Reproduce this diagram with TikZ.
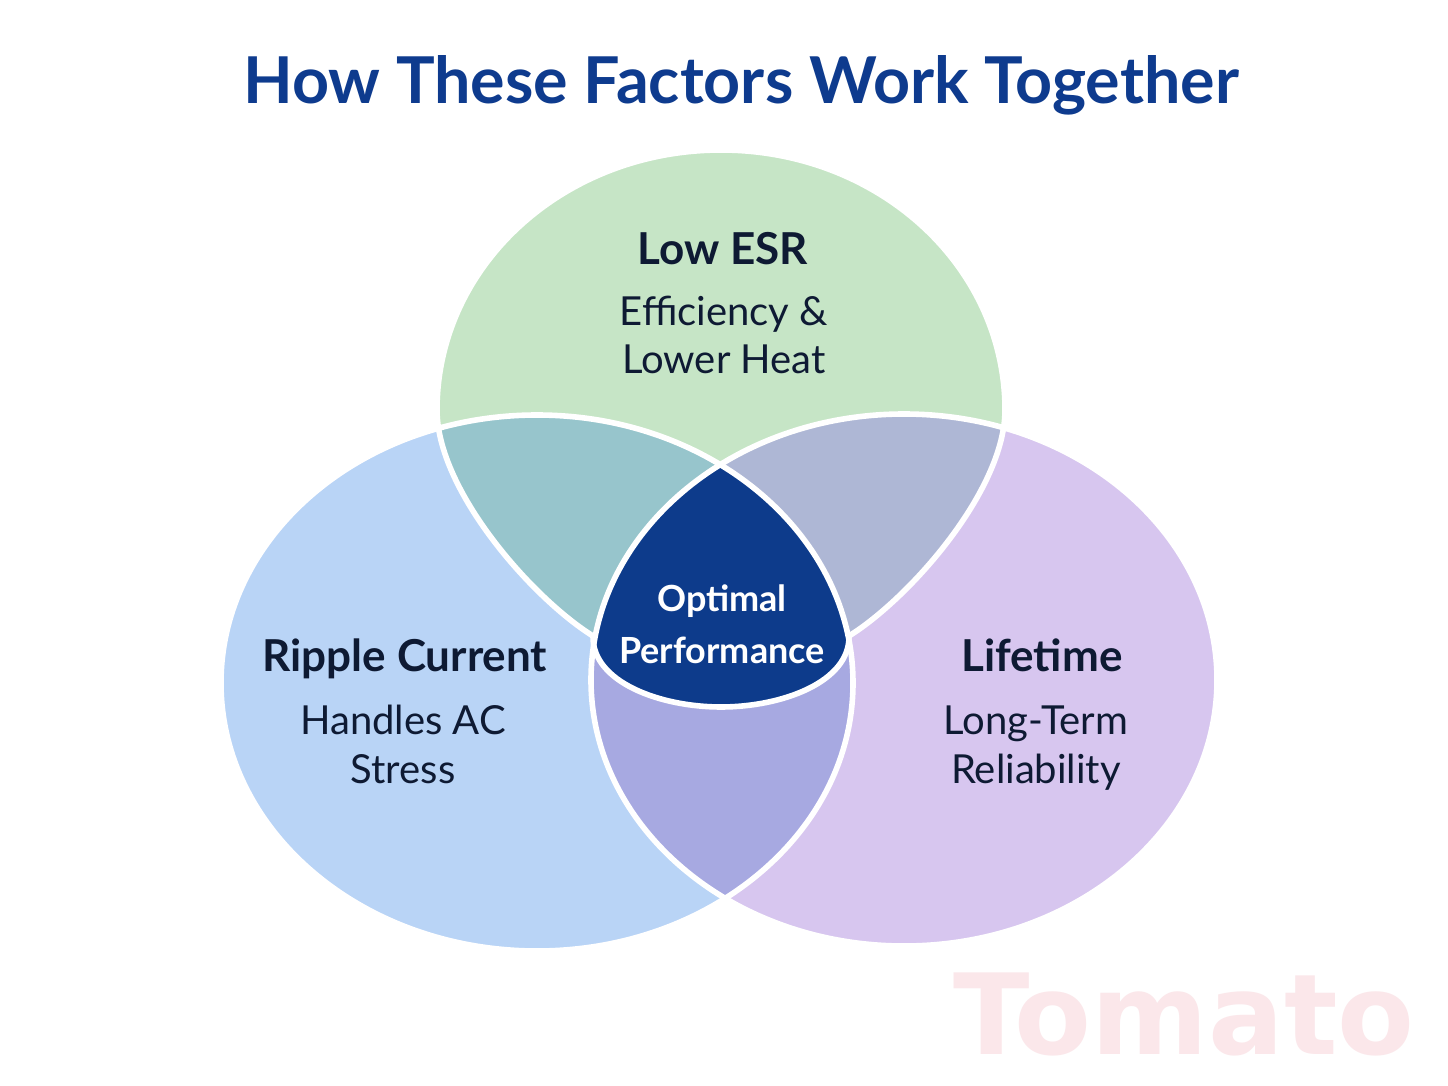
\documentclass[tikz,border=0pt]{standalone}
\usepackage{fontspec}
\setmainfont{Lato}
\newfontfamily\wmfont{DejaVu Sans}
\definecolor{cGreen}{HTML}{C6E5C6}
\definecolor{cBlue}{HTML}{B9D4F6}
\definecolor{cPurple}{HTML}{D7C6EF}
\definecolor{cTeal}{HTML}{97C5CC}
\definecolor{cGrayLens}{HTML}{AEB7D5}
\definecolor{cLav}{HTML}{A7A9E1}
\definecolor{cNavy}{HTML}{0D3B8B}
\definecolor{cTitle}{HTML}{0E3B8E}
\definecolor{cText}{HTML}{0E1A33}
\definecolor{cMark}{HTML}{FBE7EA}
\tikzset{
  headlbl/.style={text=cText, font=\fontsize{22}{26}\selectfont\bfseries, anchor=base, inner sep=0pt},
  sublbl/.style={text=cText, font=\fontsize{20}{24}\selectfont, anchor=base, inner sep=0pt},
  corelbl/.style={text=white, font=\fontsize{18}{21}\selectfont\bfseries, anchor=base, inner sep=0pt},
  sep/.style={draw=white, line width=2.8pt},
}
\newcommand{\greenpath}{(437,410) .. controls (437,265.3) and (564.1,150) .. (721,150)
  .. controls (877.9,150) and (1005,265.3) .. (1005,410)
  .. controls (1005,490) and (910,598) .. (849,636)
  .. controls (850,682) and (782,707) .. (721,707)
  .. controls (660,707) and (592,682) .. (593,636)
  .. controls (532,598) and (437,490) .. (437,410) -- cycle}
\newcommand{\bluepath}{(537,683) ellipse [x radius=158pt, y radius=134pt]}
\newcommand{\purplepath}{(904,680) ellipse [x radius=156.5pt, y radius=133pt]}
\begin{document}
\begin{tikzpicture}[x=0.5pt, y=-0.5pt]
\useasboundingbox (0,0) rectangle (1448,1086);
\fill[white] (0,0) rectangle (1448,1086);
% watermark
\node[text=cMark, font=\wmfont\fontsize{56}{60}\selectfont\bfseries, anchor=base, inner sep=0pt] (mark) at (1184,1054) {Tomato};
% base sets
\fill[cBlue] \bluepath;
\fill[cPurple] \purplepath;
\fill[cGreen] \greenpath;
% pairwise overlaps
\begin{scope}
  \clip \greenpath;
  \fill[cTeal] \bluepath;
\end{scope}
\begin{scope}
  \clip \greenpath;
  \fill[cGrayLens] \purplepath;
\end{scope}
\begin{scope}
  \clip \bluepath;
  \fill[cLav] \purplepath;
\end{scope}
% triple overlap
\begin{scope}
  \clip \greenpath;
  \clip \bluepath;
  \fill[cNavy] \purplepath;
\end{scope}
% white separators
\draw[sep] \bluepath;
\draw[sep] \purplepath;
\draw[sep] \greenpath;
% title
\node[text=cTitle, font=\fontsize{32.3}{36}\selectfont\bfseries, anchor=base, inner sep=0pt] (title) at (741,104) {How These Factors Work Together};
% labels
\node[headlbl] (esr) at (723,264) {Low ESR};
\node[sublbl] (esr1) at (724,325) {Efficiency \&};
\node[sublbl] (esr2) at (724,373) {Lower Heat};
\node[headlbl] (rip) at (405,671) {Ripple Current};
\node[sublbl] (rip1) at (403,734) {Handles AC};
\node[sublbl] (rip2) at (403,783) {Stress};
\node[headlbl] (life) at (1042,671) {Lifetime};
\node[sublbl] (life1) at (1036,734) {Long-Term};
\node[sublbl] (life2) at (1036,783) {Reliability};
\node[corelbl] (opt1) at (722,611) {Optimal};
\node[corelbl] (opt2) at (722,663) {Performance};
\end{tikzpicture}
\end{document}
